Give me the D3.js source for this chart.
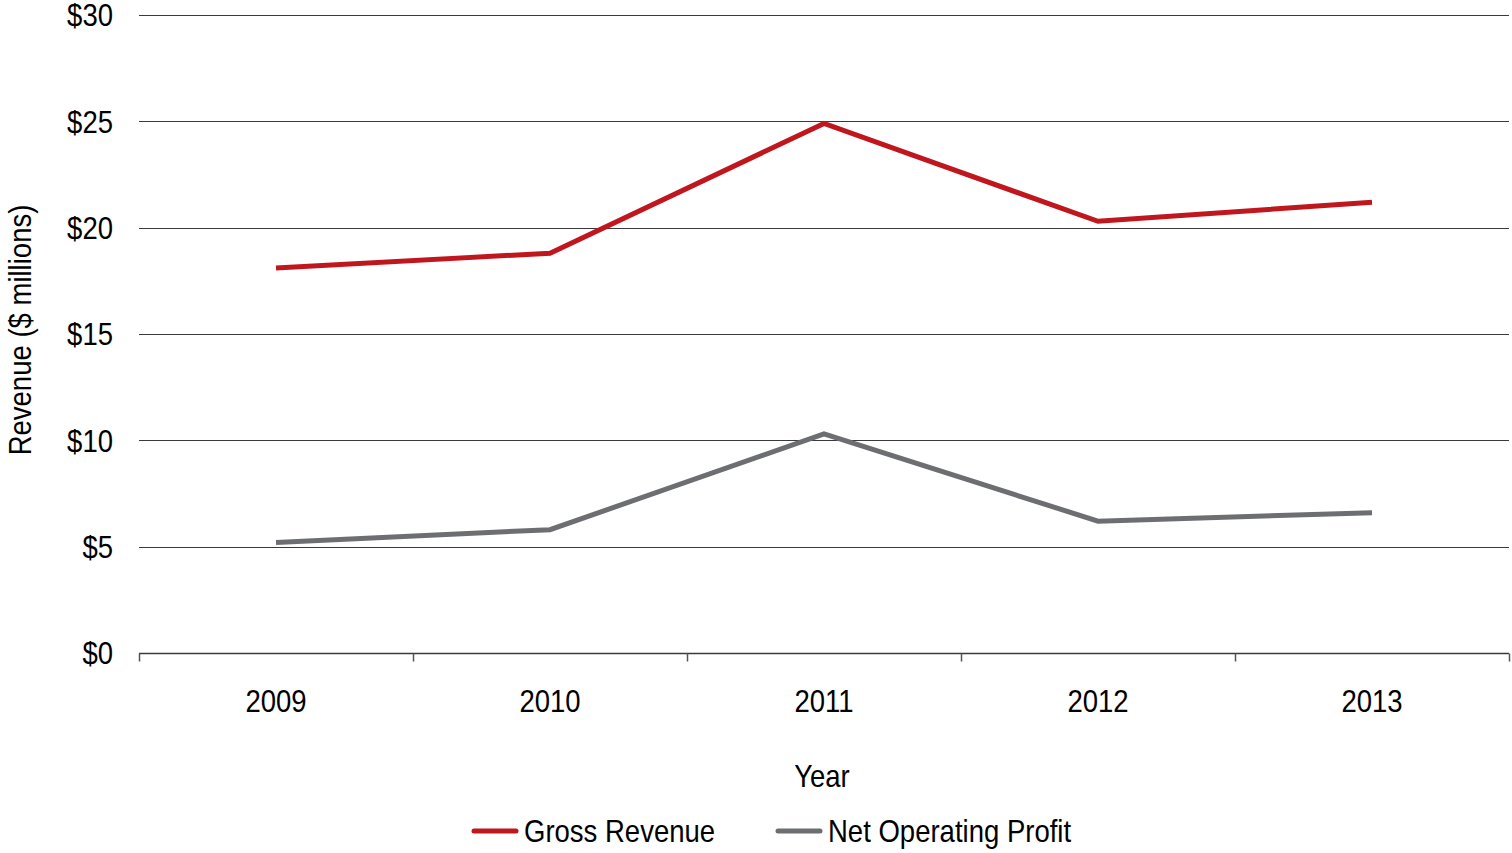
<!DOCTYPE html>
<html>
<head>
<meta charset="utf-8">
<script src="https://cdn.jsdelivr.net/npm/d3@7"></script>
<style>
  body { margin: 0; background: #fff; }
  svg text { font-family: "Liberation Sans Narrow", "Arial Narrow", "Liberation Sans", sans-serif; fill: #000; font-size: 32px; }
</style>
</head>
<body>
<div id="chart"></div>
<script>
// data
var years = ['2009', '2010', '2011', '2012', '2013'];
var grossRevenue = [18.1, 18.8, 24.9, 20.3, 21.2];
var netOperatingProfit = [5.2, 5.8, 10.3, 6.2, 6.6];
var yTicks = [0, 5, 10, 15, 20, 25, 30];

var series = [
    {name: 'Gross Revenue', values: grossRevenue, color: '#c0161e'},
    {name: 'Net Operating Profit', values: netOperatingProfit, color: '#6d6e71'}
];

var width = 1512, height = 853;
var margin = {top: 15, right: 3, bottom: 200, left: 139};
var narrow = 0.86; // fake the condensed face

var svg = d3.select("#chart").append("svg")
    .attr("width", width)
    .attr("height", height);

var x = d3.scaleBand()
    .domain(years)
    .range([margin.left, width - margin.right]);
var y = d3.scaleLinear()
    .domain([0, 30])
    .range([height - margin.bottom, margin.top]);

function place(px, py, rot) {
    return "translate(" + px + "," + py + ")" + (rot ? " rotate(" + rot + ")" : "") + " scale(" + narrow + ",1)";
}

// gridlines
svg.append("g")
    .selectAll("line")
    .data(yTicks.filter(d => d > 0))
    .enter().append("line")
    .attr("x1", margin.left)
    .attr("x2", width - margin.right)
    .attr("y1", d => Math.round(y(d)) + 0.5)
    .attr("y2", d => Math.round(y(d)) + 0.5)
    .style("stroke", "#3a3a3a")
    .style("stroke-width", 1);

// y tick labels
svg.append("g")
    .selectAll("text")
    .data(yTicks)
    .enter().append("text")
    .attr("transform", d => place(113, y(d)))
    .attr("dy", "0.35em")
    .style("text-anchor", "end")
    .text(d => "$" + d);

// x axis baseline + ticks at category boundaries
var y0 = Math.round(y(0)) + 0.5;
svg.append("line")
    .attr("x1", margin.left)
    .attr("x2", width - margin.right)
    .attr("y1", y0)
    .attr("y2", y0)
    .style("stroke", "#3a3a3a")
    .style("stroke-width", 1.5);
var bounds = years.map(d => x(d)).concat([x(years[years.length - 1]) + x.bandwidth()]);
svg.append("g")
    .selectAll("line")
    .data(bounds)
    .enter().append("line")
    .attr("x1", d => Math.round(d) + 0.5)
    .attr("x2", d => Math.round(d) + 0.5)
    .attr("y1", y0)
    .attr("y2", y0 + 8)
    .style("stroke", "#555")
    .style("stroke-width", 1.5);

// x tick labels
svg.append("g")
    .selectAll("text")
    .data(years)
    .enter().append("text")
    .attr("transform", d => place(x(d) + x.bandwidth() / 2, 701))
    .attr("dy", "0.35em")
    .style("text-anchor", "middle")
    .text(d => d);

// axis titles
svg.append("text")
    .attr("transform", place(822, 776))
    .attr("dy", "0.35em")
    .style("text-anchor", "middle")
    .text("Year");
svg.append("text")
    .attr("transform", place(20, 330, -90))
    .attr("dy", "0.35em")
    .style("text-anchor", "middle")
    .text("Revenue ($ millions)");

// lines
var line = d3.line()
    .x((d, i) => x(years[i]) + x.bandwidth() / 2)
    .y(d => y(d));
svg.append("g")
    .selectAll("path")
    .data(series)
    .enter().append("path")
    .attr("d", d => line(d.values))
    .style("fill", "none")
    .style("stroke", d => d.color)
    .style("stroke-width", 5)
    .style("stroke-linejoin", "miter");

// legend
var legendPos = [472, 776];
var legend = svg.append("g")
    .selectAll("g")
    .data(series)
    .enter().append("g")
    .attr("transform", (d, i) => "translate(" + legendPos[i] + ",831)");
legend.append("line")
    .attr("x1", 2)
    .attr("x2", 44)
    .style("stroke", d => d.color)
    .style("stroke-width", 5)
    .style("stroke-linecap", "round");
legend.append("text")
    .attr("transform", place(52, 0))
    .attr("dy", "0.35em")
    .text(d => d.name);
</script>
</body>
</html>
